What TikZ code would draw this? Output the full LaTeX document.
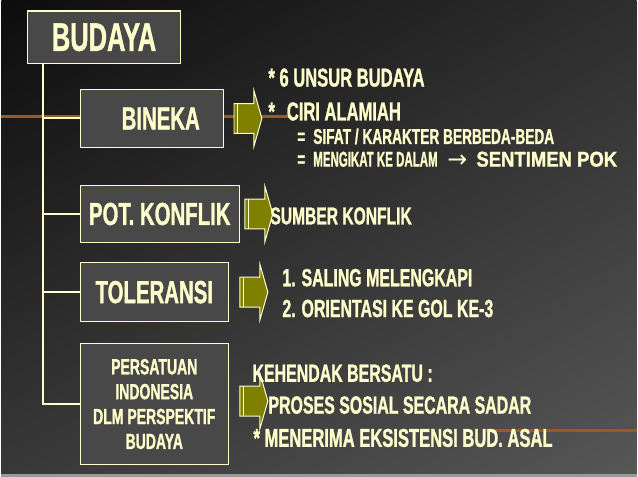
\documentclass[tikz,border=0pt]{standalone}
\usepackage{fontspec}
\newfontfamily\narrowfont[FakeStretch=0.64,FakeBold=1]{Liberation Sans}
\newfontfamily\symbolfont{DejaVu Sans}
\usetikzlibrary{positioning,shadings}
\definecolor{cream}{RGB}{255,255,204}
\definecolor{olivebox}{RGB}{128,128,0}
\definecolor{boxgray}{RGB}{72,72,72}
\definecolor{rustline}{RGB}{150,92,36}

\begin{document}
\begin{tikzpicture}[x=1pt,y=-1pt,
	box/.style={draw=cream,fill=boxgray,line width=1.2pt,text=cream,inner sep=0,align=center},
	txt/.style={text=cream,anchor=west,inner sep=0},
	hugetext/.style={font=\narrowfont\bfseries\fontsize{40}{44}\selectfont},
	labeltext/.style={font=\narrowfont\bfseries\fontsize{32}{34}\selectfont},
	bodytext/.style={font=\narrowfont\bfseries\fontsize{25}{27}\selectfont},
	toptext/.style={font=\narrowfont\bfseries\fontsize{26}{28}\selectfont},
	smalltext/.style={font=\narrowfont\bfseries\fontsize{21.5}{25}\selectfont},
	link/.style={draw=cream,line width=2pt},
	pics/stripearrow/.style={code={
		\draw[fill=olivebox,draw=cream,line width=1pt] (0,-15) -- (20,-15) -- (20,-28) -- (28,0) -- (20,28) -- (20,15) -- (0,15) -- cycle;
		\draw[cream,line width=1pt] (3.5,-15) -- (3.5,15);}}]
	% background
	\shade[upper left=black!95,upper right=black!82,lower left=black!78,lower right=black!66] (0,0) rectangle (638,479);
	\fill[black!40] (0,476.5) rectangle (638,479);
	\draw[rustline,line width=3pt] (0,117) -- (292,117);
	\draw[rustline,line width=3pt] (487,433) -- (638,433);
	% boxes
	\node[box,hugetext,minimum width=154,minimum height=53] (budaya) at (103,37.5) {BUDAYA};
	\node[box,labeltext,minimum width=144,minimum height=58] (bineka) at (151,119) {\hspace*{18pt}BINEKA};
	\node[box,labeltext,minimum width=160,minimum height=58] (pot) at (159,215) {POT. KONFLIK};
	\node[box,labeltext,minimum width=149,minimum height=59] (toleransi) at (153.5,293.5) {TOLERANSI};
	\node[box,font=\narrowfont\bfseries\fontsize{22}{25}\selectfont,minimum width=149,minimum height=122] (persatuan) at (153.5,406) {PERSATUAN\\INDONESIA\\DLM PERSPEKTIF\\BUDAYA};
	\draw[link] (budaya.south west) ++(16,0) coordinate (trunk) |- (persatuan.west);
	\draw[link] (trunk |- bineka.west) -- (bineka.west);
	\draw[link] (trunk |- pot.west) -- (pot.west);
	\draw[link] (trunk |- toleransi.west) -- (toleransi.west);
	% arrows
	\pic at ([xshift=10pt]bineka.east) {stripearrow};
	\pic at ([xshift=5pt]pot.east) {stripearrow};
	\pic at ([xshift=11pt]toleransi.east) {stripearrow};
	\pic at ([xshift=11pt,yshift=3pt]persatuan.east) {stripearrow};
	% texts
	\node[txt,toptext] (unsur) at (268,78) {* 6 UNSUR BUDAYA};
	\node[txt,toptext] (ciri) at (268,112) {*\hspace{12pt}CIRI ALAMIAH};
	\node[txt,smalltext] (sifat) at (297,137) {=\hspace{8pt}SIFAT / KARAKTER BERBEDA-BEDA};
	\node[txt,smalltext] (mengikat) at (297,160) {=\hspace{8pt}\scalebox{0.84}[1]{MENGIKAT KE DALAM}};
	\node[text=cream,inner sep=0,font=\symbolfont\fontsize{24}{26}\selectfont] (panah) at (458,162) {→};
	\node[txt,smalltext] (sentimen) at (477,160) {\scalebox{1.35}[1]{SENTIMEN POK}};
	\node[txt,font=\narrowfont\bfseries\fontsize{24.5}{26}\selectfont] (sumber) at (270,217) {SUMBER KONFLIK};
	\node[txt,bodytext] (saling) at (282,279) {1. SALING MELENGKAPI};
	\node[txt,bodytext] (orientasi) at (282,310) {2. ORIENTASI KE GOL KE-3};
	\node[txt,bodytext] (kehendak) at (252,375) {KEHENDAK BERSATU :};
	\node[txt,bodytext] (proses) at (268,407) {PROSES SOSIAL SECARA SADAR};
	\node[txt,toptext] (menerima) at (253,440) {* MENERIMA EKSISTENSI BUD. ASAL};
\end{tikzpicture}
\end{document}
